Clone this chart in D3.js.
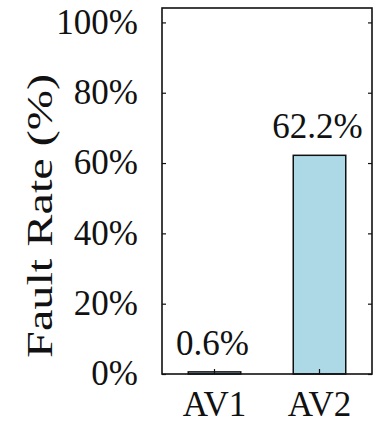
<!DOCTYPE html>
<html>
<head>
<meta charset="utf-8">
<script src="https://cdn.jsdelivr.net/npm/d3@7"></script>
<style>
  html, body { margin: 0; padding: 0; background: #fff; }
  svg { display: block; }
</style>
</head>
<body>
<script>
// Fault rate per vehicle
const categories = ["AV1", "AV2"];
const faultRates = [0.6, 62.2];
const valueLabels = ["0.6%", "62.2%"];
const yTickValues = [0, 20, 40, 60, 80, 100];
const yTickLabels = ["0%", "20%", "40%", "60%", "80%", "100%"];

const FONT = "'Liberation Serif', 'Times New Roman', Times, serif";
const FONT_SIZE = 35;
const INK = "#111";

const W = 376, H = 425;
const margin = { top: 8, right: 4, bottom: 51, left: 162 };
const innerW = W - margin.left - margin.right;
const innerH = H - margin.top - margin.bottom;

const svg = d3.select("body").append("svg")
  .attr("width", W).attr("height", H);

const g = svg.append("g")
  .attr("transform", `translate(${margin.left},${margin.top})`);

const x = d3.scaleBand()
  .domain(categories)
  .range([0, innerW])
  .paddingInner(0.5)
  .paddingOuter(0.25);

const y = d3.scaleLinear()
  .domain([0, 104.1])
  .range([innerH, 0]);

// Bars
g.selectAll("rect.bar")
  .data(categories)
  .join("rect")
  .attr("class", "bar")
  .attr("x", d => x(d))
  .attr("width", x.bandwidth())
  .attr("y", (d, i) => y(faultRates[i]))
  .attr("height", (d, i) => innerH - y(faultRates[i]))
  .attr("fill", "#add8e6")
  .attr("stroke", INK)
  .attr("stroke-width", 1.5);

// Value labels above bars
g.selectAll("text.val")
  .data(categories)
  .join("text")
  .attr("class", "val")
  .attr("x", d => x(d) + x.bandwidth() / 2 - 2)
  .attr("y", (d, i) => y(faultRates[i]) - 17)
  .attr("text-anchor", "middle")
  .attr("font-family", FONT)
  .attr("font-size", FONT_SIZE)
  .attr("fill", INK)
  .text((d, i) => valueLabels[i]);

// Left axis with inward ticks
const yAxisL = d3.axisLeft(y)
  .tickValues(yTickValues)
  .tickFormat((d, i) => yTickLabels[i])
  .tickSize(-4)
  .tickPadding(24);

const gyL = g.append("g").call(yAxisL)
  .attr("font-family", FONT).attr("font-size", FONT_SIZE);
gyL.select(".domain").remove();
gyL.selectAll("line").attr("stroke", INK).attr("stroke-width", 1.2);
gyL.selectAll("text")
  .attr("dy", "0.31em")
  .attr("fill", INK);

// Mirrored ticks on the right edge
const yAxisR = d3.axisRight(y)
  .tickValues(yTickValues)
  .tickFormat("")
  .tickSize(-4);
const gyR = g.append("g").attr("transform", `translate(${innerW},0)`).call(yAxisR);
gyR.select(".domain").remove();
gyR.selectAll("line").attr("stroke", INK).attr("stroke-width", 1.2);

// Bottom axis with inward ticks
const xAxis = d3.axisBottom(x).tickSize(-5).tickPadding(0);
const gx = g.append("g").attr("transform", `translate(0,${innerH})`).call(xAxis)
  .attr("font-family", FONT).attr("font-size", FONT_SIZE);
gx.select(".domain").remove();
gx.selectAll("line").attr("stroke", INK).attr("stroke-width", 1.2);
gx.selectAll("text")
  .attr("y", 42)
  .attr("dy", null)
  .attr("fill", INK);

// Plot frame
g.append("rect")
  .attr("x", 0).attr("y", 0)
  .attr("width", innerW).attr("height", innerH)
  .attr("fill", "none")
  .attr("stroke", INK)
  .attr("stroke-width", 1.6);

// Y axis title
svg.append("text")
  .attr("transform", `translate(52,${margin.top + innerH * 0.568}) rotate(-90)`)
  .attr("text-anchor", "middle")
  .attr("font-family", FONT)
  .attr("font-size", 36)
  .attr("fill", INK)
  .attr("textLength", 284)
  .attr("lengthAdjust", "spacingAndGlyphs")
  .text("Fault Rate (%)");
</script>
</body>
</html>
